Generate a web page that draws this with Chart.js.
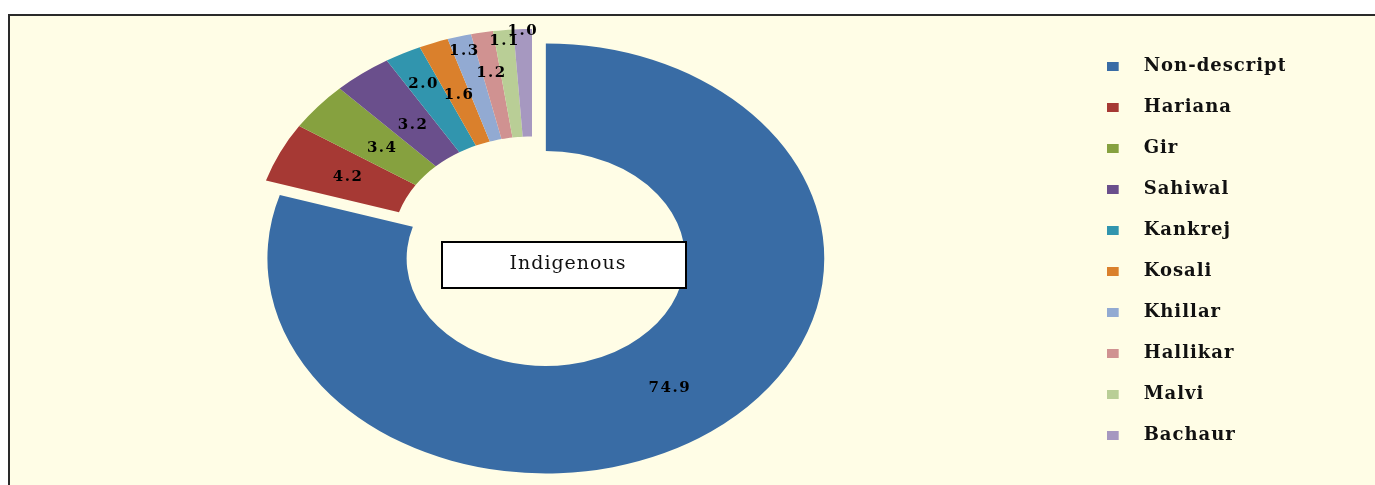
<!DOCTYPE html>
<html>
<head>
<meta charset="utf-8">
<script src="https://cdn.jsdelivr.net/npm/chart.js@4.4.0/dist/chart.umd.min.js"></script>
<style>
    html, body { margin: 0; padding: 0; background: #fff; overflow: hidden; }
    #frame { position: absolute; left: 8px; top: 14px; width: 1400px; height: 500px; border: 2px solid #2a2a2a; background: #fffde6; }
    #myChart { display: block; }
</style>
</head>
<body>
<div id="frame"><canvas id="myChart" width="1365" height="469"></canvas></div>
<script>
// breed share of indigenous cattle (%)
var breeds = ['Non-descript', 'Hariana', 'Gir', 'Sahiwal', 'Kankrej', 'Kosali', 'Khillar', 'Hallikar', 'Malvi', 'Bachaur'];
var shares = [74.9, 4.2, 3.4, 3.2, 2.0, 1.6, 1.3, 1.2, 1.1, 1.0];

var colors = ['#396ca5', '#a63934', '#86a13f', '#6a4f8c', '#3195ae', '#da802c', '#92aad2', '#d09291', '#b9ce96', '#a698c0'];
// where each value label sits, as a part of the outer radius
var labelR = [0.75, 0.73, 0.70, 0.70, 0.84, 0.74, 0.93, 0.81, 0.95, 0.99];

// ring centre on the canvas, horizontal stretch of the ring, pull-out of the first slice
var CX = 522, CY = 228, SX = 1.295, EXPLODE = 18;

var ellipse = {
    id: 'ellipse',
    beforeDraw: function (chart) {
        chart.ctx.letterSpacing = '1px';
    },
    beforeDatasetsDraw: function (chart) {
        var ctx = chart.ctx;
        var arc = chart.getDatasetMeta(0).data[0];
        ctx.save();
        ctx.translate(CX, CY);
        ctx.scale(SX, 1);
        ctx.translate(-arc.x, -arc.y);
    },
    afterDatasetsDraw: function (chart) {
        var ctx = chart.ctx;
        ctx.restore();
        var meta = chart.getDatasetMeta(0);

        ctx.save();
        ctx.font = 'bold 15px "DejaVu Serif"';
        ctx.letterSpacing = '1.5px';
        ctx.fillStyle = '#000';
        ctx.textAlign = 'center';
        ctx.textBaseline = 'middle';
        meta.data.forEach(function (a, i) {
            var p = a.getProps(['startAngle', 'endAngle', 'outerRadius'], true);
            var mid = (p.startAngle + p.endAngle) / 2;
            var r = labelR[i] * p.outerRadius + (i === 0 ? EXPLODE : 0);
            ctx.fillText(shares[i].toFixed(1), CX + SX * Math.cos(mid) * r, CY + Math.sin(mid) * r);
        });

        // "Indigenous" text box
        ctx.fillStyle = '#fff';
        ctx.fillRect(432, 226, 244, 46);
        ctx.lineWidth = 2;
        ctx.strokeStyle = '#000';
        ctx.strokeRect(432, 226, 244, 46);
        ctx.font = '19px "DejaVu Serif"';
        ctx.letterSpacing = '1px';
        ctx.fillStyle = '#111';
        ctx.fillText('Indigenous', 558, 248);
        ctx.restore();
    }
};

var ctx = document.getElementById('myChart').getContext('2d');

var chart = new Chart(ctx, {
    type: 'doughnut',
    data: {
        labels: breeds,
        datasets: [{
            data: shares,
            backgroundColor: colors,
            borderWidth: 0
        }]
    },
    options: {
        responsive: false,
        animation: false,
        devicePixelRatio: 1,
        radius: 215,
        cutout: '50%',
        layout: { padding: { top: 18, right: 90, bottom: 0, left: 0 } },
        plugins: {
            tooltip: { enabled: false },
            legend: {
                position: 'right',
                align: 'start',
                labels: {
                    color: '#111',
                    font: { family: '"DejaVu Serif"', size: 18, weight: 'bold' },
                    padding: 23,
                    usePointStyle: true,
                    pointStyleWidth: 28,
                    boxHeight: 9,
                    generateLabels: function (chart) {
                        var items = Chart.overrides.doughnut.plugins.legend.labels.generateLabels(chart);
                        items.forEach(function (it, i) {
                            var c = document.createElement('canvas');
                            c.width = 28;
                            c.height = 9;
                            var g = c.getContext('2d');
                            g.fillStyle = colors[i];
                            g.fillRect(0, 0, 12, 9);
                            it.pointStyle = c;
                        });
                        return items;
                    }
                }
            }
        }
    },
    plugins: [ellipse]
});

// pull the Non-descript slice out along its middle angle, keeping its radii
var first = chart.getDatasetMeta(0).data[0];
var arcDraw = first.draw;
first.draw = function (c) {
    var mid = (this.startAngle + this.endAngle) / 2;
    c.save();
    c.translate(Math.cos(mid) * EXPLODE, Math.sin(mid) * EXPLODE);
    arcDraw.apply(this, arguments);
    c.restore();
};
chart.draw();
</script>
</body>
</html>
